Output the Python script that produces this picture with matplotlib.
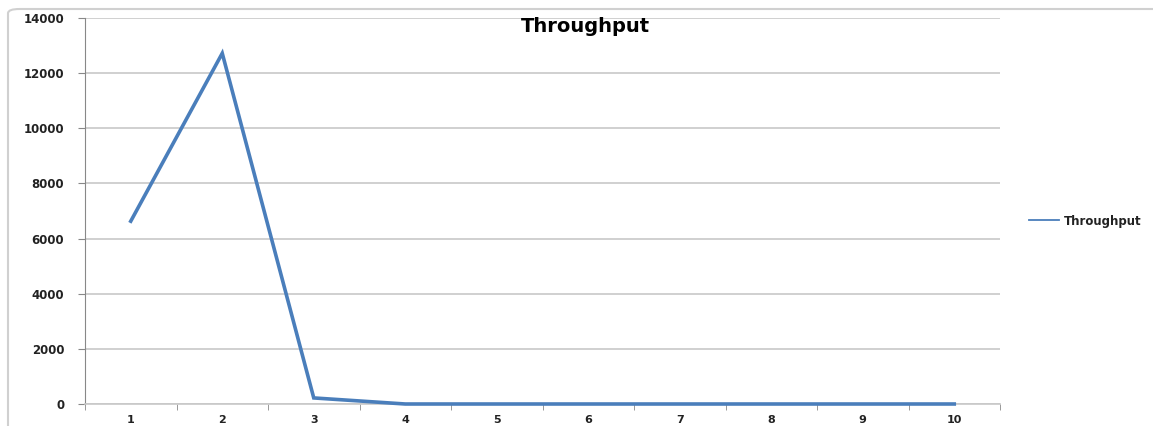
import matplotlib
matplotlib.use("Agg")
import matplotlib.pyplot as plt
from matplotlib.patches import FancyBboxPatch

# data
categories = [1, 2, 3, 4, 5, 6, 7, 8, 9, 10]
throughput = [6630, 12720, 220, 0, 0, 0, 0, 0, 0, 0]
yticks = [0, 2000, 4000, 6000, 8000, 10000, 12000, 14000]

W, H = 1153, 426
fig = plt.figure(figsize=(W / 100, H / 100), dpi=100)

# outer chart border (top and left visible, rest cropped)
border = FancyBboxPatch((8 / W, -0.2), 1.2, 1 - 9 / H + 0.2,
                        boxstyle="round,pad=0,rounding_size=0.01",
                        transform=fig.transFigure, fill=False,
                        edgecolor="#d0d0d0", linewidth=1.5)
fig.patches.append(border)

ax = fig.add_axes([85 / W, 1 - 404 / H, (1000 - 85) / W, (404 - 18) / H])

x = list(range(len(categories)))
ax.plot(x, throughput, color="#4a7ebb", linewidth=2.6, label="Throughput",
        solid_joinstyle="miter", zorder=5, clip_on=False)

ax.set_xlim(-0.5, len(categories) - 0.5)
ax.set_ylim(0, 14000)

ax.set_yticks(yticks)
ax.set_yticklabels([str(v) for v in yticks], fontsize=8.5, fontweight="bold",
                   color="#222222")
ax.set_xticks(x)
ax.set_xticklabels([str(c) for c in categories], fontsize=8,
                   fontweight="bold", color="#222222")
# ticks between categories
ax.set_xticks([i - 0.5 for i in range(len(categories) + 1)], minor=True)
ax.tick_params(axis="x", which="major", length=0, pad=8)
ax.tick_params(axis="x", which="minor", length=4, color="#888888",
               direction="out")
ax.tick_params(axis="y", length=5, color="#888888", pad=10)

ax.grid(axis="y", color="#c8c8c8", linewidth=1.2)
ax.set_axisbelow(True)
for s in ["top", "right"]:
    ax.spines[s].set_visible(False)
ax.spines["left"].set_color("#888888")
ax.spines["bottom"].set_color("#c8c8c8")
ax.spines["bottom"].set_linewidth(1.2)

fig.text(585 / W, 1 - 26 / H, "Throughput", ha="center", va="center",
         fontsize=14, fontweight="bold")

leg = ax.legend(loc="center left", bbox_to_anchor=(1018 / W, 1 - 221 / H),
                bbox_transform=fig.transFigure, frameon=False, fontsize=8.5,
                handlelength=2.6, handletextpad=0.4)
for t in leg.get_texts():
    t.set_fontweight("bold")
    t.set_color("#222222")
for h in leg.get_lines():
    h.set_linewidth(1.3)

fig.savefig("out.png", dpi=100)
